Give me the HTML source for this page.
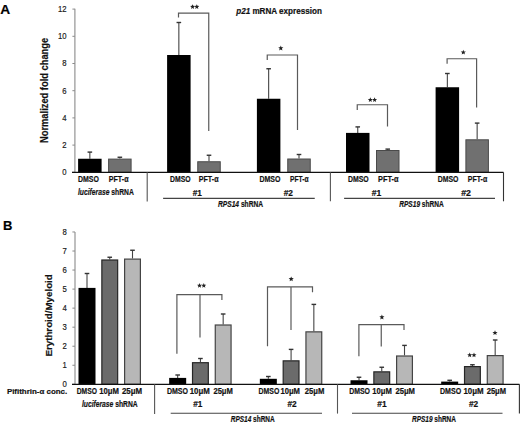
<!DOCTYPE html>
<html><head><meta charset="utf-8"><title>Figure</title>
<style>
html,body{margin:0;padding:0;background:#fff;}
body{width:520px;height:424px;overflow:hidden;}
svg{display:block;font-family:"Liberation Sans",sans-serif;}
text{stroke:#000;stroke-width:0.18px;paint-order:stroke;}
</style></head>
<body>
<svg width="520" height="424" viewBox="0 0 520 424">
<rect width="520" height="424" fill="#fff"/>
<line x1="74.9" y1="8.7" x2="74.9" y2="172.3" stroke="#8a8a8a" stroke-width="1.1"/>
<line x1="72.4" y1="172.3" x2="74.9" y2="172.3" stroke="#8a8a8a" stroke-width="1"/>
<text x="62.2" y="175.1" font-size="9.3" font-weight="normal" font-style="normal" text-anchor="start" textLength="4.3" lengthAdjust="spacingAndGlyphs" fill="#1a1a1a">0</text>
<line x1="72.4" y1="145.1" x2="74.9" y2="145.1" stroke="#8a8a8a" stroke-width="1"/>
<text x="62.2" y="147.9" font-size="9.3" font-weight="normal" font-style="normal" text-anchor="start" textLength="4.3" lengthAdjust="spacingAndGlyphs" fill="#1a1a1a">2</text>
<line x1="72.4" y1="117.9" x2="74.9" y2="117.9" stroke="#8a8a8a" stroke-width="1"/>
<text x="62.2" y="120.7" font-size="9.3" font-weight="normal" font-style="normal" text-anchor="start" textLength="4.3" lengthAdjust="spacingAndGlyphs" fill="#1a1a1a">4</text>
<line x1="72.4" y1="90.7" x2="74.9" y2="90.7" stroke="#8a8a8a" stroke-width="1"/>
<text x="62.2" y="93.5" font-size="9.3" font-weight="normal" font-style="normal" text-anchor="start" textLength="4.3" lengthAdjust="spacingAndGlyphs" fill="#1a1a1a">6</text>
<line x1="72.4" y1="63.5" x2="74.9" y2="63.5" stroke="#8a8a8a" stroke-width="1"/>
<text x="62.2" y="66.3" font-size="9.3" font-weight="normal" font-style="normal" text-anchor="start" textLength="4.3" lengthAdjust="spacingAndGlyphs" fill="#1a1a1a">8</text>
<line x1="72.4" y1="36.3" x2="74.9" y2="36.3" stroke="#8a8a8a" stroke-width="1"/>
<text x="57.9" y="39.1" font-size="9.3" font-weight="normal" font-style="normal" text-anchor="start" textLength="8.6" lengthAdjust="spacingAndGlyphs" fill="#1a1a1a">10</text>
<line x1="72.4" y1="9.1" x2="74.9" y2="9.1" stroke="#8a8a8a" stroke-width="1"/>
<text x="57.9" y="11.9" font-size="9.3" font-weight="normal" font-style="normal" text-anchor="start" textLength="8.6" lengthAdjust="spacingAndGlyphs" fill="#1a1a1a">12</text>
<line x1="89.85" y1="152.1" x2="89.85" y2="158.75" stroke="#444" stroke-width="1.1"/>
<line x1="87.55" y1="152.1" x2="92.15" y2="152.1" stroke="#333" stroke-width="1.4"/>
<rect x="78.1" y="158.75" width="23.5" height="13.55" fill="#000"/>
<line x1="119.85" y1="157.25" x2="119.85" y2="158.6" stroke="#444" stroke-width="1.1"/>
<line x1="117.55" y1="157.25" x2="122.15" y2="157.25" stroke="#333" stroke-width="1.4"/>
<rect x="108.6" y="159.1" width="22.5" height="13.2" fill="#707070" stroke="#4a4a4a" stroke-width="1"/>
<line x1="178.85" y1="22.5" x2="178.85" y2="55" stroke="#444" stroke-width="1.1"/>
<line x1="176.55" y1="22.5" x2="181.15" y2="22.5" stroke="#333" stroke-width="1.4"/>
<rect x="167.1" y="55" width="23.5" height="117.3" fill="#000"/>
<line x1="209" y1="155.25" x2="209" y2="161.25" stroke="#444" stroke-width="1.1"/>
<line x1="206.7" y1="155.25" x2="211.3" y2="155.25" stroke="#333" stroke-width="1.4"/>
<rect x="197.75" y="161.75" width="22.5" height="10.55" fill="#707070" stroke="#4a4a4a" stroke-width="1"/>
<line x1="268.65" y1="68.75" x2="268.65" y2="98.75" stroke="#444" stroke-width="1.1"/>
<line x1="266.35" y1="68.75" x2="270.95" y2="68.75" stroke="#333" stroke-width="1.4"/>
<rect x="256.9" y="98.75" width="23.5" height="73.55" fill="#000"/>
<line x1="299" y1="154.5" x2="299" y2="158.5" stroke="#444" stroke-width="1.1"/>
<line x1="296.7" y1="154.5" x2="301.3" y2="154.5" stroke="#333" stroke-width="1.4"/>
<rect x="287.75" y="159" width="22.5" height="13.3" fill="#707070" stroke="#4a4a4a" stroke-width="1"/>
<line x1="357.75" y1="126.9" x2="357.75" y2="132.9" stroke="#444" stroke-width="1.1"/>
<line x1="355.45" y1="126.9" x2="360.05" y2="126.9" stroke="#333" stroke-width="1.4"/>
<rect x="346" y="132.9" width="23.5" height="39.4" fill="#000"/>
<line x1="387.75" y1="149.1" x2="387.75" y2="150" stroke="#444" stroke-width="1.1"/>
<line x1="385.45" y1="149.1" x2="390.05" y2="149.1" stroke="#333" stroke-width="1.4"/>
<rect x="376.5" y="150.5" width="22.5" height="21.8" fill="#707070" stroke="#4a4a4a" stroke-width="1"/>
<line x1="447.35" y1="73.5" x2="447.35" y2="87.25" stroke="#444" stroke-width="1.1"/>
<line x1="445.05" y1="73.5" x2="449.65" y2="73.5" stroke="#333" stroke-width="1.4"/>
<rect x="435.6" y="87.25" width="23.5" height="85.05" fill="#000"/>
<line x1="477.15" y1="123.1" x2="477.15" y2="139.3" stroke="#444" stroke-width="1.1"/>
<line x1="474.85" y1="123.1" x2="479.45" y2="123.1" stroke="#333" stroke-width="1.4"/>
<rect x="465.9" y="139.8" width="22.5" height="32.5" fill="#707070" stroke="#4a4a4a" stroke-width="1"/>
<path d="M178.5 17.5 V13.1 H208.75 V131" fill="none" stroke="#5a5a5a" stroke-width="1.2"/>
<path d="M267.25 60 V55 H297.5 V130" fill="none" stroke="#5a5a5a" stroke-width="1.2"/>
<path d="M357.25 110 V104.75 H387.5 V126.5" fill="none" stroke="#5a5a5a" stroke-width="1.2"/>
<path d="M447.1 63.75 V58.75 H476.6 V107.5" fill="none" stroke="#5a5a5a" stroke-width="1.2"/>
<polygon points="192.6,4.2 193.29,5.85 195.07,6 193.71,7.16 194.13,8.9 192.6,7.97 191.07,8.9 191.49,7.16 190.13,6 191.91,5.85" fill="#222"/>
<polygon points="196.8,4.2 197.49,5.85 199.27,6 197.91,7.16 198.33,8.9 196.8,7.97 195.27,8.9 195.69,7.16 194.33,6 196.11,5.85" fill="#222"/>
<polygon points="280.8,45.5 281.51,47.22 283.37,47.37 281.96,48.58 282.39,50.38 280.8,49.42 279.21,50.38 279.64,48.58 278.23,47.37 280.09,47.22" fill="#222"/>
<polygon points="370.3,97.3 370.99,98.95 372.77,99.1 371.41,100.26 371.83,102 370.3,101.07 368.77,102 369.19,100.26 367.83,99.1 369.61,98.95" fill="#222"/>
<polygon points="374.6,97.3 375.29,98.95 377.07,99.1 375.71,100.26 376.13,102 374.6,101.07 373.07,102 373.49,100.26 372.13,99.1 373.91,98.95" fill="#222"/>
<polygon points="463.3,49.7 464.01,51.42 465.87,51.57 464.46,52.78 464.89,54.58 463.3,53.62 461.71,54.58 462.14,52.78 460.73,51.57 462.59,51.42" fill="#222"/>
<line x1="72" y1="172.3" x2="503.5" y2="172.3" stroke="#111" stroke-width="1.3"/>
<line x1="147.2" y1="172.3" x2="147.2" y2="201.5" stroke="#555" stroke-width="1.1"/>
<line x1="330.4" y1="172.3" x2="330.4" y2="201.3" stroke="#555" stroke-width="1.1"/>
<line x1="503.5" y1="172.3" x2="503.5" y2="201.3" stroke="#333" stroke-width="1.1"/>
<line x1="163.1" y1="198.4" x2="314.75" y2="198.4" stroke="#444" stroke-width="1.1"/>
<line x1="344.1" y1="198.4" x2="495" y2="198.4" stroke="#444" stroke-width="1.1"/>
<text x="78" y="181.7" font-size="8.7" font-weight="bold" font-style="normal" text-anchor="start" textLength="20.9" lengthAdjust="spacingAndGlyphs" fill="#111">DMSO</text>
<text x="108.8" y="181.7" font-size="8.7" font-weight="bold" font-style="normal" text-anchor="start" textLength="19.7" lengthAdjust="spacingAndGlyphs" fill="#111">PFT-&#945;</text>
<text x="170" y="181.7" font-size="8.7" font-weight="bold" font-style="normal" text-anchor="start" textLength="20.6" lengthAdjust="spacingAndGlyphs" fill="#111">DMSO</text>
<text x="198.75" y="181.7" font-size="8.7" font-weight="bold" font-style="normal" text-anchor="start" textLength="19.75" lengthAdjust="spacingAndGlyphs" fill="#111">PFT-&#945;</text>
<text x="259.4" y="181.7" font-size="8.7" font-weight="bold" font-style="normal" text-anchor="start" textLength="21" lengthAdjust="spacingAndGlyphs" fill="#111">DMSO</text>
<text x="290" y="181.7" font-size="8.7" font-weight="bold" font-style="normal" text-anchor="start" textLength="18.5" lengthAdjust="spacingAndGlyphs" fill="#111">PFT-&#945;</text>
<text x="348" y="181.7" font-size="8.7" font-weight="bold" font-style="normal" text-anchor="start" textLength="20.75" lengthAdjust="spacingAndGlyphs" fill="#111">DMSO</text>
<text x="378" y="181.7" font-size="8.7" font-weight="bold" font-style="normal" text-anchor="start" textLength="20.5" lengthAdjust="spacingAndGlyphs" fill="#111">PFT-&#945;</text>
<text x="437.75" y="181.7" font-size="8.7" font-weight="bold" font-style="normal" text-anchor="start" textLength="20.75" lengthAdjust="spacingAndGlyphs" fill="#111">DMSO</text>
<text x="467.75" y="181.7" font-size="8.7" font-weight="bold" font-style="normal" text-anchor="start" textLength="19.5" lengthAdjust="spacingAndGlyphs" fill="#111">PFT-&#945;</text>
<text x="192.75" y="195.6" font-size="8.6" font-weight="bold" font-style="normal" text-anchor="start" textLength="9.15" lengthAdjust="spacingAndGlyphs" fill="#111">#1</text>
<text x="283.75" y="195.6" font-size="8.6" font-weight="bold" font-style="normal" text-anchor="start" textLength="9.25" lengthAdjust="spacingAndGlyphs" fill="#111">#2</text>
<text x="371.75" y="195.6" font-size="8.6" font-weight="bold" font-style="normal" text-anchor="start" textLength="9.5" lengthAdjust="spacingAndGlyphs" fill="#111">#1</text>
<text x="461.25" y="195.6" font-size="8.6" font-weight="bold" font-style="normal" text-anchor="start" textLength="9.75" lengthAdjust="spacingAndGlyphs" fill="#111">#2</text>
<text x="78" y="195.3" font-size="8.5" font-weight="bold" font-style="normal" text-anchor="start" textLength="55.8" lengthAdjust="spacingAndGlyphs" fill="#111"><tspan font-style="italic">luciferase</tspan> shRNA</text>
<text x="218" y="207.1" font-size="8.5" font-weight="bold" font-style="normal" text-anchor="start" textLength="45.1" lengthAdjust="spacingAndGlyphs" fill="#111"><tspan font-style="italic">RPS14</tspan> shRNA</text>
<text x="399.25" y="207.1" font-size="8.5" font-weight="bold" font-style="normal" text-anchor="start" textLength="44.5" lengthAdjust="spacingAndGlyphs" fill="#111"><tspan font-style="italic">RPS19</tspan> shRNA</text>
<text x="236.2" y="13.8" font-size="8.6" font-weight="bold" font-style="normal" text-anchor="start" textLength="85.7" lengthAdjust="spacingAndGlyphs" fill="#111"><tspan font-style="italic">p21</tspan> mRNA expression</text>
<text x="0.3" y="13.8" font-size="12.5" font-weight="bold" font-style="normal" text-anchor="start" textLength="9.9" lengthAdjust="spacingAndGlyphs" fill="#000">A</text>
<text transform="translate(48.1 143.0) rotate(-90)" x="0" y="0" font-size="10.0" font-weight="bold" textLength="105.2" lengthAdjust="spacingAndGlyphs" fill="#111">Normalized fold change</text>
<line x1="75" y1="232" x2="75" y2="384.3" stroke="#8a8a8a" stroke-width="1.1"/>
<line x1="72.4" y1="384.3" x2="75" y2="384.3" stroke="#8a8a8a" stroke-width="1"/>
<text x="62.6" y="387.2" font-size="9.3" font-weight="normal" font-style="normal" text-anchor="start" textLength="4.3" lengthAdjust="spacingAndGlyphs" fill="#1a1a1a">0</text>
<line x1="72.4" y1="365.26" x2="75" y2="365.26" stroke="#8a8a8a" stroke-width="1"/>
<text x="62.6" y="368.16" font-size="9.3" font-weight="normal" font-style="normal" text-anchor="start" textLength="4.3" lengthAdjust="spacingAndGlyphs" fill="#1a1a1a">1</text>
<line x1="72.4" y1="346.22" x2="75" y2="346.22" stroke="#8a8a8a" stroke-width="1"/>
<text x="62.6" y="349.12" font-size="9.3" font-weight="normal" font-style="normal" text-anchor="start" textLength="4.3" lengthAdjust="spacingAndGlyphs" fill="#1a1a1a">2</text>
<line x1="72.4" y1="327.18" x2="75" y2="327.18" stroke="#8a8a8a" stroke-width="1"/>
<text x="62.6" y="330.08" font-size="9.3" font-weight="normal" font-style="normal" text-anchor="start" textLength="4.3" lengthAdjust="spacingAndGlyphs" fill="#1a1a1a">3</text>
<line x1="72.4" y1="308.14" x2="75" y2="308.14" stroke="#8a8a8a" stroke-width="1"/>
<text x="62.6" y="311.04" font-size="9.3" font-weight="normal" font-style="normal" text-anchor="start" textLength="4.3" lengthAdjust="spacingAndGlyphs" fill="#1a1a1a">4</text>
<line x1="72.4" y1="289.1" x2="75" y2="289.1" stroke="#8a8a8a" stroke-width="1"/>
<text x="62.6" y="292" font-size="9.3" font-weight="normal" font-style="normal" text-anchor="start" textLength="4.3" lengthAdjust="spacingAndGlyphs" fill="#1a1a1a">5</text>
<line x1="72.4" y1="270.06" x2="75" y2="270.06" stroke="#8a8a8a" stroke-width="1"/>
<text x="62.6" y="272.96" font-size="9.3" font-weight="normal" font-style="normal" text-anchor="start" textLength="4.3" lengthAdjust="spacingAndGlyphs" fill="#1a1a1a">6</text>
<line x1="72.4" y1="251.02" x2="75" y2="251.02" stroke="#8a8a8a" stroke-width="1"/>
<text x="62.6" y="253.92" font-size="9.3" font-weight="normal" font-style="normal" text-anchor="start" textLength="4.3" lengthAdjust="spacingAndGlyphs" fill="#1a1a1a">7</text>
<line x1="72.4" y1="231.98" x2="75" y2="231.98" stroke="#8a8a8a" stroke-width="1"/>
<text x="62.6" y="234.88" font-size="9.3" font-weight="normal" font-style="normal" text-anchor="start" textLength="4.3" lengthAdjust="spacingAndGlyphs" fill="#1a1a1a">8</text>
<line x1="87" y1="273.5" x2="87" y2="287.9" stroke="#444" stroke-width="1.1"/>
<line x1="84.7" y1="273.5" x2="89.3" y2="273.5" stroke="#333" stroke-width="1.4"/>
<rect x="78.5" y="287.9" width="17" height="96.4" fill="#000"/>
<line x1="109.75" y1="257.25" x2="109.75" y2="259.4" stroke="#444" stroke-width="1.1"/>
<line x1="107.45" y1="257.25" x2="112.05" y2="257.25" stroke="#333" stroke-width="1.4"/>
<rect x="101.85" y="260" width="15.8" height="124.3" fill="#6b6b6b" stroke="#262626" stroke-width="1.2"/>
<line x1="132.5" y1="250.25" x2="132.5" y2="258.5" stroke="#444" stroke-width="1.1"/>
<line x1="130.2" y1="250.25" x2="134.8" y2="250.25" stroke="#333" stroke-width="1.4"/>
<rect x="124.6" y="259.1" width="15.8" height="125.2" fill="#b7b7b7" stroke="#444" stroke-width="1.2"/>
<line x1="177.67" y1="375" x2="177.67" y2="377.9" stroke="#444" stroke-width="1.1"/>
<line x1="175.37" y1="375" x2="179.97" y2="375" stroke="#333" stroke-width="1.4"/>
<rect x="169.17" y="377.9" width="17" height="6.4" fill="#000"/>
<line x1="200.42" y1="358.5" x2="200.42" y2="362.1" stroke="#444" stroke-width="1.1"/>
<line x1="198.12" y1="358.5" x2="202.72" y2="358.5" stroke="#333" stroke-width="1.4"/>
<rect x="192.52" y="362.7" width="15.8" height="21.6" fill="#6b6b6b" stroke="#262626" stroke-width="1.2"/>
<line x1="223.17" y1="314" x2="223.17" y2="324.4" stroke="#444" stroke-width="1.1"/>
<line x1="220.87" y1="314" x2="225.47" y2="314" stroke="#333" stroke-width="1.4"/>
<rect x="215.27" y="325" width="15.8" height="59.3" fill="#b7b7b7" stroke="#444" stroke-width="1.2"/>
<line x1="268.34" y1="376.5" x2="268.34" y2="378.8" stroke="#444" stroke-width="1.1"/>
<line x1="266.04" y1="376.5" x2="270.64" y2="376.5" stroke="#333" stroke-width="1.4"/>
<rect x="259.84" y="378.8" width="17" height="5.5" fill="#000"/>
<line x1="291.09" y1="349.4" x2="291.09" y2="360.25" stroke="#444" stroke-width="1.1"/>
<line x1="288.79" y1="349.4" x2="293.39" y2="349.4" stroke="#333" stroke-width="1.4"/>
<rect x="283.19" y="360.85" width="15.8" height="23.45" fill="#6b6b6b" stroke="#262626" stroke-width="1.2"/>
<line x1="313.84" y1="304.4" x2="313.84" y2="331.25" stroke="#444" stroke-width="1.1"/>
<line x1="311.54" y1="304.4" x2="316.14" y2="304.4" stroke="#333" stroke-width="1.4"/>
<rect x="305.94" y="331.85" width="15.8" height="52.45" fill="#b7b7b7" stroke="#444" stroke-width="1.2"/>
<line x1="359.01" y1="377.25" x2="359.01" y2="380.25" stroke="#444" stroke-width="1.1"/>
<line x1="356.71" y1="377.25" x2="361.31" y2="377.25" stroke="#333" stroke-width="1.4"/>
<rect x="350.51" y="380.25" width="17" height="4.05" fill="#000"/>
<line x1="381.76" y1="367.25" x2="381.76" y2="371.25" stroke="#444" stroke-width="1.1"/>
<line x1="379.46" y1="367.25" x2="384.06" y2="367.25" stroke="#333" stroke-width="1.4"/>
<rect x="373.86" y="371.85" width="15.8" height="12.45" fill="#6b6b6b" stroke="#262626" stroke-width="1.2"/>
<line x1="404.51" y1="345.4" x2="404.51" y2="355.4" stroke="#444" stroke-width="1.1"/>
<line x1="402.21" y1="345.4" x2="406.81" y2="345.4" stroke="#333" stroke-width="1.4"/>
<rect x="396.61" y="356" width="15.8" height="28.3" fill="#b7b7b7" stroke="#444" stroke-width="1.2"/>
<line x1="449.68" y1="380.3" x2="449.68" y2="381.6" stroke="#444" stroke-width="1.1"/>
<line x1="447.38" y1="380.3" x2="451.98" y2="380.3" stroke="#333" stroke-width="1.4"/>
<rect x="441.18" y="381.6" width="17" height="2.7" fill="#000"/>
<line x1="472.43" y1="364.75" x2="472.43" y2="366" stroke="#444" stroke-width="1.1"/>
<line x1="470.13" y1="364.75" x2="474.73" y2="364.75" stroke="#333" stroke-width="1.4"/>
<rect x="464.53" y="366.6" width="15.8" height="17.7" fill="#6b6b6b" stroke="#262626" stroke-width="1.2"/>
<line x1="495.18" y1="340" x2="495.18" y2="355" stroke="#444" stroke-width="1.1"/>
<line x1="492.88" y1="340" x2="497.48" y2="340" stroke="#333" stroke-width="1.4"/>
<rect x="487.28" y="355.6" width="15.8" height="28.7" fill="#b7b7b7" stroke="#444" stroke-width="1.2"/>
<path d="M176.9 353.75 V294.6 H221.9 V300 M200 294.6 V337.5" fill="none" stroke="#5a5a5a" stroke-width="1.2"/>
<path d="M267.5 346.25 V286.9 H312.5 V292.25 M291 286.9 V330" fill="none" stroke="#5a5a5a" stroke-width="1.2"/>
<path d="M358.9 356.25 V324.6 H404 V330 M381.25 324.6 V346.5" fill="none" stroke="#5a5a5a" stroke-width="1.2"/>
<polygon points="199.5,283 200.19,284.65 201.97,284.8 200.61,285.96 201.03,287.7 199.5,286.77 197.97,287.7 198.39,285.96 197.03,284.8 198.81,284.65" fill="#222"/>
<polygon points="203.8,283 204.49,284.65 206.27,284.8 204.91,285.96 205.33,287.7 203.8,286.77 202.27,287.7 202.69,285.96 201.33,284.8 203.11,284.65" fill="#222"/>
<polygon points="291.2,276.4 291.91,278.12 293.77,278.27 292.36,279.48 292.79,281.28 291.2,280.31 289.61,281.28 290.04,279.48 288.63,278.27 290.49,278.12" fill="#222"/>
<polygon points="381.9,314.5 382.61,316.22 384.47,316.37 383.06,317.58 383.49,319.38 381.9,318.41 380.31,319.38 380.74,317.58 379.33,316.37 381.19,316.22" fill="#222"/>
<polygon points="469.7,352.5 470.39,354.15 472.17,354.3 470.81,355.46 471.23,357.2 469.7,356.27 468.17,357.2 468.59,355.46 467.23,354.3 469.01,354.15" fill="#222"/>
<polygon points="474,352.5 474.69,354.15 476.47,354.3 475.11,355.46 475.53,357.2 474,356.27 472.47,357.2 472.89,355.46 471.53,354.3 473.31,354.15" fill="#222"/>
<polygon points="495,330.2 495.71,331.92 497.57,332.07 496.16,333.28 496.59,335.08 495,334.11 493.41,335.08 493.84,333.28 492.43,332.07 494.29,331.92" fill="#222"/>
<line x1="72" y1="384.3" x2="519.5" y2="384.3" stroke="#111" stroke-width="1.3"/>
<line x1="154.6" y1="384.3" x2="154.6" y2="414" stroke="#555" stroke-width="1.1"/>
<line x1="337.5" y1="384.3" x2="337.5" y2="413.6" stroke="#555" stroke-width="1.1"/>
<line x1="519.4" y1="384.3" x2="519.4" y2="413.4" stroke="#333" stroke-width="1.1"/>
<line x1="170.7" y1="413.2" x2="322" y2="413.2" stroke="#444" stroke-width="1.1"/>
<line x1="352" y1="413.2" x2="502.5" y2="413.2" stroke="#444" stroke-width="1.1"/>
<text x="76.7" y="394.1" font-size="8.6" font-weight="bold" font-style="normal" text-anchor="start" textLength="20.2" lengthAdjust="spacingAndGlyphs" fill="#111">DMSO</text>
<text x="99.2" y="394.1" font-size="8.6" font-weight="bold" font-style="normal" text-anchor="start" textLength="19.8" lengthAdjust="spacingAndGlyphs" fill="#111">10&#956;M</text>
<text x="121.9" y="394.1" font-size="8.6" font-weight="bold" font-style="normal" text-anchor="start" textLength="20.2" lengthAdjust="spacingAndGlyphs" fill="#111">25&#956;M</text>
<text x="166.9" y="394.1" font-size="8.6" font-weight="bold" font-style="normal" text-anchor="start" textLength="21.1" lengthAdjust="spacingAndGlyphs" fill="#111">DMSO</text>
<text x="189.7" y="394.1" font-size="8.6" font-weight="bold" font-style="normal" text-anchor="start" textLength="20.1" lengthAdjust="spacingAndGlyphs" fill="#111">10&#956;M</text>
<text x="213.4" y="394.1" font-size="8.6" font-weight="bold" font-style="normal" text-anchor="start" textLength="19.5" lengthAdjust="spacingAndGlyphs" fill="#111">25&#956;M</text>
<text x="258.5" y="394.1" font-size="8.6" font-weight="bold" font-style="normal" text-anchor="start" textLength="20.8" lengthAdjust="spacingAndGlyphs" fill="#111">DMSO</text>
<text x="280.4" y="394.1" font-size="8.6" font-weight="bold" font-style="normal" text-anchor="start" textLength="19.6" lengthAdjust="spacingAndGlyphs" fill="#111">10&#956;M</text>
<text x="304.7" y="394.1" font-size="8.6" font-weight="bold" font-style="normal" text-anchor="start" textLength="19.6" lengthAdjust="spacingAndGlyphs" fill="#111">25&#956;M</text>
<text x="349.2" y="394.1" font-size="8.6" font-weight="bold" font-style="normal" text-anchor="start" textLength="20.8" lengthAdjust="spacingAndGlyphs" fill="#111">DMSO</text>
<text x="372.3" y="394.1" font-size="8.6" font-weight="bold" font-style="normal" text-anchor="start" textLength="19.6" lengthAdjust="spacingAndGlyphs" fill="#111">10&#956;M</text>
<text x="395.4" y="394.1" font-size="8.6" font-weight="bold" font-style="normal" text-anchor="start" textLength="19.6" lengthAdjust="spacingAndGlyphs" fill="#111">25&#956;M</text>
<text x="440" y="394.1" font-size="8.6" font-weight="bold" font-style="normal" text-anchor="start" textLength="21.1" lengthAdjust="spacingAndGlyphs" fill="#111">DMSO</text>
<text x="463.4" y="394.1" font-size="8.6" font-weight="bold" font-style="normal" text-anchor="start" textLength="20.2" lengthAdjust="spacingAndGlyphs" fill="#111">10&#956;M</text>
<text x="486.7" y="394.1" font-size="8.6" font-weight="bold" font-style="normal" text-anchor="start" textLength="19.4" lengthAdjust="spacingAndGlyphs" fill="#111">25&#956;M</text>
<text x="193.3" y="407.2" font-size="8.6" font-weight="bold" font-style="normal" text-anchor="start" textLength="9.1" lengthAdjust="spacingAndGlyphs" fill="#111">#1</text>
<text x="287.4" y="407.2" font-size="8.6" font-weight="bold" font-style="normal" text-anchor="start" textLength="9.2" lengthAdjust="spacingAndGlyphs" fill="#111">#2</text>
<text x="377.3" y="407.2" font-size="8.6" font-weight="bold" font-style="normal" text-anchor="start" textLength="9.3" lengthAdjust="spacingAndGlyphs" fill="#111">#1</text>
<text x="468.9" y="407.2" font-size="8.6" font-weight="bold" font-style="normal" text-anchor="start" textLength="9.2" lengthAdjust="spacingAndGlyphs" fill="#111">#2</text>
<text x="81.9" y="407.1" font-size="8.5" font-weight="bold" font-style="normal" text-anchor="start" textLength="55.8" lengthAdjust="spacingAndGlyphs" fill="#111"><tspan font-style="italic">luciferase</tspan> shRNA</text>
<text x="230.8" y="421.5" font-size="8.5" font-weight="bold" font-style="normal" text-anchor="start" textLength="43.9" lengthAdjust="spacingAndGlyphs" fill="#111"><tspan font-style="italic">RPS14</tspan> shRNA</text>
<text x="412" y="421.5" font-size="8.5" font-weight="bold" font-style="normal" text-anchor="start" textLength="44" lengthAdjust="spacingAndGlyphs" fill="#111"><tspan font-style="italic">RPS19</tspan> shRNA</text>
<text x="6.9" y="393.8" font-size="7.9" font-weight="bold" font-style="normal" text-anchor="start" textLength="60.3" lengthAdjust="spacingAndGlyphs" fill="#111">Pifithrin-&#945; conc.</text>
<text x="3.1" y="230.2" font-size="12.5" font-weight="bold" font-style="normal" text-anchor="start" textLength="9.4" lengthAdjust="spacingAndGlyphs" fill="#000">B</text>
<text transform="translate(52.4 356.6) rotate(-90)" x="0" y="0" font-size="9.8" font-weight="bold" textLength="82.4" lengthAdjust="spacingAndGlyphs" fill="#111">Erythroid/Myeloid</text>
</svg>
</body></html>
